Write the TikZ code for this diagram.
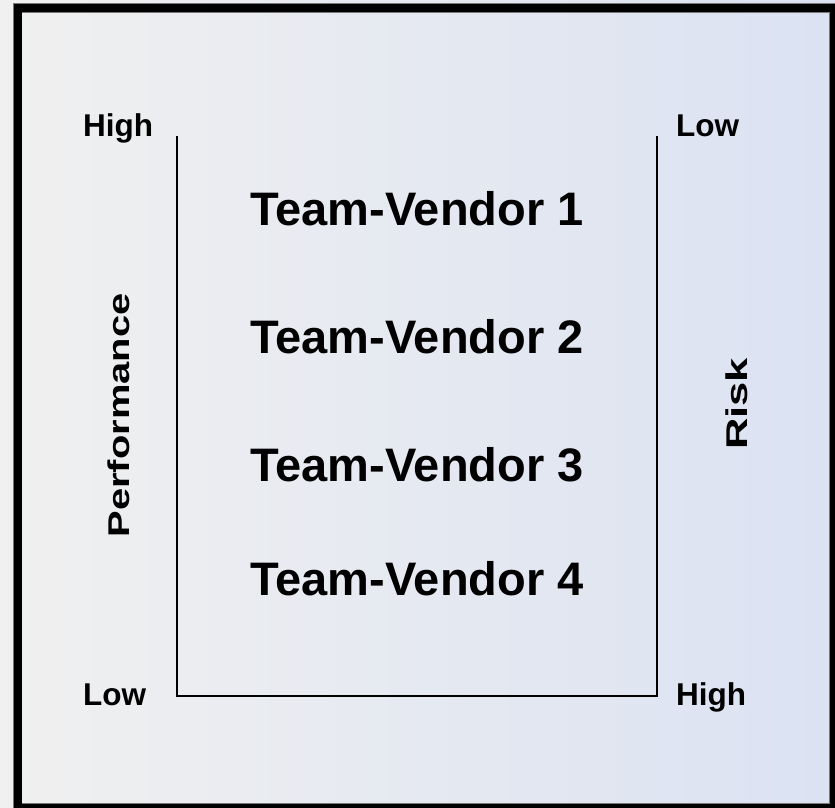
\documentclass[tikz,border=0pt]{standalone}
\usepackage{fontspec}
\setmainfont{Liberation Sans}
\usetikzlibrary{calc}
\definecolor{bgleft}{RGB}{240,240,240}
\definecolor{bgright}{RGB}{219,226,242}
\definecolor{rimgray}{RGB}{120,120,120}
\tikzset{
  axisline/.style={line width=1.5pt, black},
  endlabel/.style={anchor=base west, inner sep=0pt, font=\fontsize{31.5pt}{34pt}\selectfont\bfseries},
  vendor/.style={anchor=base west, inner sep=0pt, font=\fontsize{47pt}{50pt}\selectfont\bfseries},
  axistitle/.style={rotate=90, anchor=base, inner sep=0pt, font=\fontsize{30pt}{33pt}\selectfont\bfseries}
}
\begin{document}
\begin{tikzpicture}[x=1pt,y=1pt]
  \useasboundingbox (0,0) rectangle (835,-807);
  % shaded panel
  \shade[left color=bgleft, right color=bgright] (0,0) rectangle (835,-807);
  % heavy frame
  \draw[rimgray, line width=9.5pt] (17.5,-8) rectangle (834,-808);
  \draw[black, line width=8pt] (17.5,-8) rectangle (834,-808);

  % axes
  \coordinate (tl) at (177,-136);
  \coordinate (bl) at (177,-696);
  \coordinate (br) at (657,-696);
  \coordinate (tr) at (657,-136);
  \draw[axisline] (tl) -- (bl) -- (br) -- (tr);

  % end labels
  \node[endlabel] (perfhigh) at (83,-136) {High};
  \node[endlabel] (risklow) at (676,-136) {Low};
  \node[endlabel] (perflow) at (83,-705) {Low};
  \node[endlabel] (riskhigh) at (676,-705) {High};

  % axis titles
  \node[axistitle] (perf) at (129,-415.5) {\scalebox{1.33}[1]{Performance}};
  \node[axistitle] (risk) at (747,-404) {\scalebox{1.45}[1]{Risk}};

  % ranked entries
  \node[vendor] (v1) at (250,-225) {Team-Vendor 1};
  \node[vendor] (v2) at (250,-353) {Team-Vendor 2};
  \node[vendor] (v3) at (250,-481.5) {Team-Vendor 3};
  \node[vendor] (v4) at (250,-595) {Team-Vendor 4};
\end{tikzpicture}
\end{document}
